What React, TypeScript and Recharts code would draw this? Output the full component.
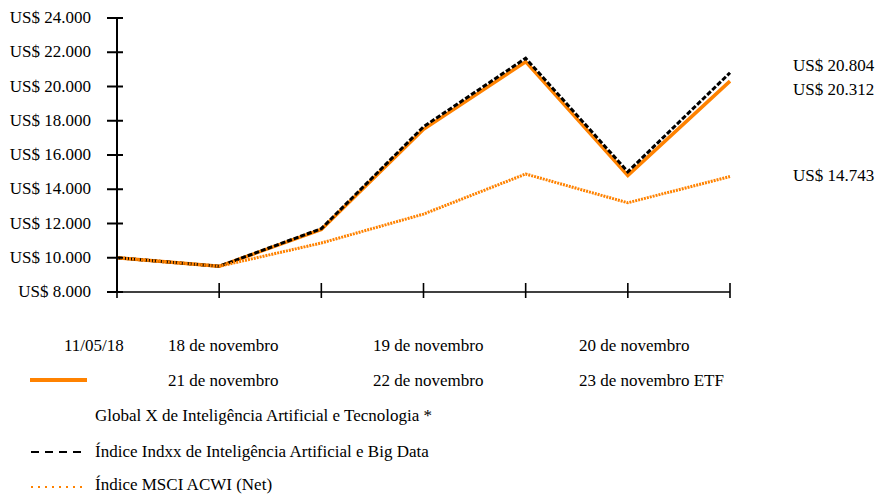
import React from "react";
import { LineChart, Line, XAxis, YAxis } from "recharts";

const dates = [
  "11/05/18",
  "18 de novembro",
  "19 de novembro",
  "20 de novembro",
  "21 de novembro",
  "22 de novembro",
  "23 de novembro",
];
const etfValues = [10000, 9500, 11650, 17500, 21450, 14800, 20312];
const indxxValues = [10000, 9500, 11700, 17650, 21650, 15020, 20804];
const msciValues = [10000, 9500, 10860, 12550, 14890, 13210, 14743];
const yTicks = [8000, 10000, 12000, 14000, 16000, 18000, 20000, 22000, 24000];
const endLabels = ["US$ 20.804", "US$ 20.312", "US$ 14.743"];
const seriesNames = [
  "Global X de Inteligência Artificial e Tecnologia *",
  "Índice Indxx de Inteligência Artificial e Big Data",
  "Índice MSCI ACWI (Net)",
];

const data = dates.map((d, i) => ({
  date: d,
  etf: etfValues[i],
  indxx: indxxValues[i],
  msci: msciValues[i],
}));

const FONT = "'Liberation Serif', 'Times New Roman', serif";
const ORANGE = "#FF8200";

function fmt(v: number) {
  const s = String(Math.round(v));
  return s.replace(/\B(?=(\d{3})+(?!\d))/g, ".");
}

const YTick = (props: any) => {
  const { x, y, payload } = props;
  return (
    <g>
      <line x1={x - 10} x2={x + 6} y1={y} y2={y} stroke="#000" strokeWidth={2} />
      <text
        x={x - 26}
        y={y}
        dy={5}
        textAnchor="end"
        fontFamily={FONT}
        fontSize={17}
        fill="#000"
      >
        {"US$ " + fmt(payload.value)}
      </text>
    </g>
  );
};

const XTick = (props: any) => {
  const { x, y } = props;
  return (
    <line x1={x} x2={x} y1={y - 9} y2={y + 6} stroke="#000" strokeWidth={1.6} />
  );
};

export default function App() {
  const textStyle: React.CSSProperties = {
    fontFamily: FONT,
    fontSize: 17,
    fill: "#000",
  };
  return (
    <div
      style={{
        position: "absolute",
        left: 0,
        top: 0,
        width: 878,
        height: 495,
        background: "#fff",
      }}
    >
      <LineChart
        width={878}
        height={495}
        data={data}
        margin={{ top: 18, right: 148, bottom: 173, left: 0 }}
      >
        <XAxis
          dataKey="date"
          height={30}
          padding={{ left: 0, right: 0 }}
          tickLine={false}
          tickSize={0}
          tickMargin={0}
          tick={<XTick />}
          axisLine={{ stroke: "#000", strokeWidth: 1.5 }}
          interval={0}
        />
        <YAxis
          width={117}
          type="number"
          domain={[8000, 24000]}
          ticks={yTicks}
          tickLine={false}
          tickSize={0}
          tickMargin={0}
          tick={<YTick />}
          axisLine={{ stroke: "#000", strokeWidth: 2 }}
          interval={0}
        />
        <Line
          dataKey="etf"
          stroke={ORANGE}
          strokeWidth={3.5}
          dot={false}
          isAnimationActive={false}
        />
        <Line
          dataKey="indxx"
          stroke="#000"
          strokeWidth={3}
          strokeDasharray="5 2"
          dot={false}
          isAnimationActive={false}
        />
        <Line
          dataKey="msci"
          stroke={ORANGE}
          strokeWidth={3}
          strokeDasharray="2 1"
          dot={false}
          isAnimationActive={false}
        />
      </LineChart>
      <svg
        width={878}
        height={495}
        style={{ position: "absolute", left: 0, top: 0, pointerEvents: "none" }}
      >
        <text x={793} y={71} style={textStyle}>{endLabels[0]}</text>
        <text x={793} y={95} style={textStyle}>{endLabels[1]}</text>
        <text x={793} y={181} style={textStyle}>{endLabels[2]}</text>

        <text x={64} y={351} style={textStyle}>{dates[0]}</text>
        <text x={168} y={351} style={textStyle}>{dates[1]}</text>
        <text x={373} y={351} style={textStyle}>{dates[2]}</text>
        <text x={579} y={351} style={textStyle}>{dates[3]}</text>

        <rect x={30} y={378} width={57} height={4} fill={ORANGE} />
        <text x={168} y={386} style={textStyle}>{dates[4]}</text>
        <text x={373} y={386} style={textStyle}>{dates[5]}</text>
        <text x={579} y={386} style={textStyle}>{dates[6] + " ETF"}</text>

        <text x={95} y={421} style={textStyle}>{seriesNames[0]}</text>

        <line x1={31} x2={82} y1={452} y2={452} stroke="#000" strokeWidth={2} strokeDasharray="8 6" />
        <text x={95} y={457} style={textStyle}>{seriesNames[1]}</text>

        <line x1={31} x2={82} y1={487} y2={487} stroke={ORANGE} strokeWidth={2} strokeDasharray="2 5" />
        <text x={95} y={490} style={textStyle}>{seriesNames[2]}</text>
      </svg>
    </div>
  );
}
